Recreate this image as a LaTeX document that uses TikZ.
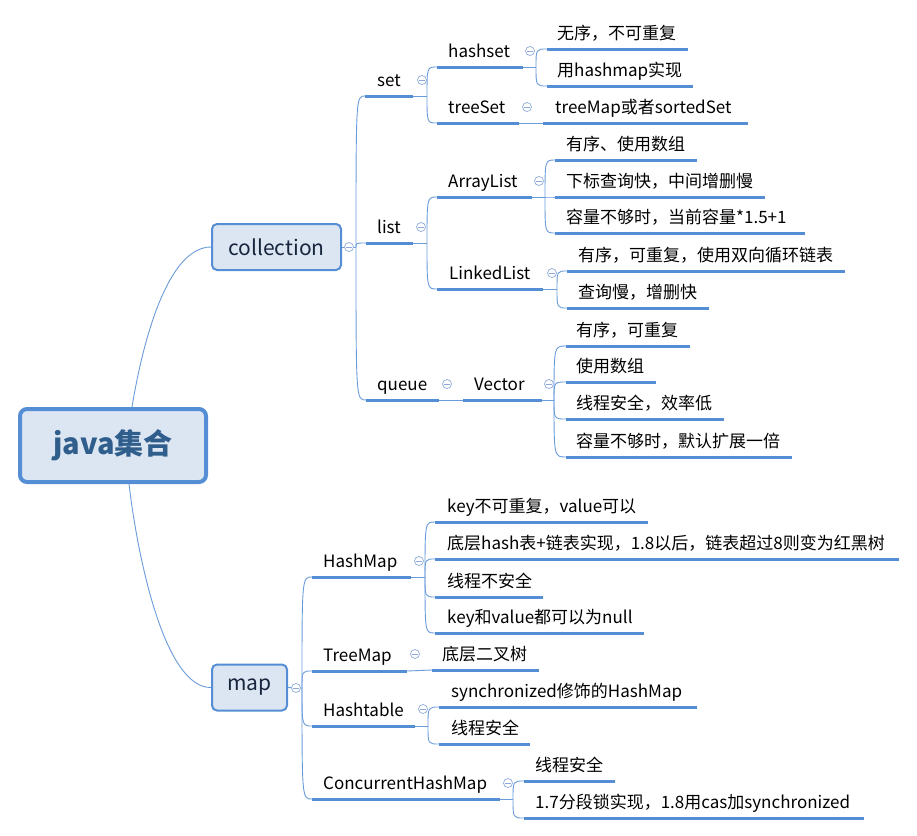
\documentclass[tikz,border=0pt]{standalone}
\usepackage{fontspec}
\setmainfont{Noto Sans CJK SC}
\definecolor{ulc}{HTML}{558ED5}
\definecolor{cnc}{HTML}{6A9BDA}
\definecolor{boxfill}{HTML}{DCE6F2}
\definecolor{mkc}{HTML}{8EAADB}
\definecolor{roottext}{HTML}{2F5D8C}
\definecolor{subtext}{HTML}{17253D}
\tikzset{
  ul/.style={line width=3, draw=ulc},
  cn/.style={line width=0.9, draw=cnc},
  txt/.style={anchor=base west, inner sep=0, font=\fontsize{17}{20}\selectfont, text=black},
  mk/.style={circle, draw=mkc, fill=white, line width=0.7, inner sep=0, minimum size=9,
    path picture={\draw[mkc, line width=0.7] ([xshift=-2.6]path picture bounding box.center) -- ([xshift=2.6]path picture bounding box.center);}},
  rootbox/.style={draw=ulc, fill=boxfill, line width=4, rounded corners=7, inner sep=0,
    minimum width=186, minimum height=73, text=roottext, font=\fontsize{29}{32}\selectfont\bfseries},
  mainbox/.style={draw=ulc, fill=boxfill, line width=2, rounded corners=5, inner sep=0,
    minimum height=46, text=subtext, font=\fontsize{21}{24}\selectfont}
}
% #1 name, #2 underline left x, #3 underline right x, #4 underline y, #5 text x, #6 text
\newcommand\topicnode[6]{%
  \coordinate (#1-l) at (#2,#4);
  \coordinate (#1-r) at (#3,#4);
  \node[txt] (#1) at (#5,#4-10) {#6};
  \draw[ul] (#1-l) -- (#1-r);
}
% #1 fork, #2 child
\newcommand\branch[2]{%
  \draw[cn] (#1) .. controls (#1 |- #2-l) .. (#2-l);
}
\begin{document}
\begin{tikzpicture}[x=1pt,y=-1pt]
\useasboundingbox (0,0) rectangle (917,835);

% main boxes
\node[rootbox] (root) at (113,445.5) {java集合};
\node[mainbox, minimum width=129] (collection) at (276.5,247) {collection};
\node[mainbox, minimum width=75] (map) at (249.5,687.5) {map};

\draw[cn] ([xshift=19]root.north) .. controls (143,340) and (168,247) .. (collection.west);
\draw[cn] ([xshift=16]root.south) .. controls (138,560) and (165,688) .. (map.west);

% ---------------- collection ----------------
\coordinate (coll-f) at (356,247);
\draw[cn] (collection.east) -- (coll-f);

\topicnode{set}{365}{413}{96}{377}{set}
\topicnode{list}{366}{413}{243}{377}{list}
\topicnode{queue}{366}{439}{400}{377}{queue}
\branch{coll-f}{set}
\branch{coll-f}{list}
\branch{coll-f}{queue}

% set
\coordinate (set-f) at (427,96);
\draw[cn] (set-r) -- (set-f);
\topicnode{hashset}{437}{523}{67}{448}{hashset}
\topicnode{treeset}{437}{519}{123}{448}{treeSet}
\branch{set-f}{hashset}
\branch{set-f}{treeset}

\coordinate (hashset-f) at (536,67);
\draw[cn] (hashset-r) -- (hashset-f);
\topicnode{h1}{547}{688}{49}{557}{无序，不可重复}
\topicnode{h2}{547}{693}{86}{557}{用hashmap实现}
\branch{hashset-f}{h1}
\branch{hashset-f}{h2}

\topicnode{t1}{543}{748}{123}{555}{treeMap或者sortedSet}
\draw[cn] (treeset-r) -- (t1-l);

% list
\coordinate (list-f) at (427,243);
\draw[cn] (list-r) -- (list-f);
\topicnode{arraylist}{437}{532}{197}{448}{ArrayList}
\topicnode{linkedlist}{437}{543}{289}{449}{LinkedList}
\branch{list-f}{arraylist}
\branch{list-f}{linkedlist}

\coordinate (arraylist-f) at (545,197);
\draw[cn] (arraylist-r) -- (arraylist-f);
\topicnode{a1}{555}{697}{160}{566}{有序、使用数组}
\topicnode{a2}{555}{765}{197}{566}{下标查询快，中间增删慢}
\topicnode{a3}{555}{805}{233}{566}{容量不够时，当前容量*1.5+1}
\branch{arraylist-f}{a1}
\branch{arraylist-f}{a2}
\branch{arraylist-f}{a3}

\coordinate (linkedlist-f) at (557,289);
\draw[cn] (linkedlist-r) -- (linkedlist-f);
\topicnode{l1}{567}{845}{271}{578}{有序，可重复，使用双向循环链表}
\topicnode{l2}{567}{709}{308}{578}{查询慢，增删快}
\branch{linkedlist-f}{l1}
\branch{linkedlist-f}{l2}

% queue
\topicnode{vector}{463}{542}{400}{474}{Vector}
\draw[cn] (queue-r) -- (vector-l);
\coordinate (vector-f) at (554,400);
\draw[cn] (vector-r) -- (vector-f);
\topicnode{v1}{566}{690}{346}{576}{有序，可重复}
\topicnode{v2}{566}{656}{382}{576}{使用数组}
\topicnode{v3}{566}{724}{419}{576}{线程安全，效率低}
\topicnode{v4}{566}{792}{457}{576}{容量不够时，默认扩展一倍}
\branch{vector-f}{v1}
\branch{vector-f}{v2}
\branch{vector-f}{v3}
\branch{vector-f}{v4}

% ---------------- map ----------------
\coordinate (map-f) at (302,688);
\draw[cn] (map.east) -- (map-f);
\topicnode{hashmap}{312}{411}{577}{323}{HashMap}
\topicnode{treemap}{312}{407}{671}{323}{TreeMap}
\topicnode{hashtable}{312}{415}{726}{323}{Hashtable}
\topicnode{chm}{312}{500}{799}{323}{ConcurrentHashMap}
\branch{map-f}{hashmap}
\branch{map-f}{treemap}
\branch{map-f}{hashtable}
\branch{map-f}{chm}

\coordinate (hashmap-f) at (425,577);
\draw[cn] (hashmap-r) -- (hashmap-f);
\topicnode{m1}{435}{648}{522}{447}{key不可重复，value可以}
\topicnode{m2}{435}{899}{559}{447}{底层hash表+链表实现，1.8以后，链表超过8则变为红黑树}
\topicnode{m3}{435}{543}{597}{447}{线程不安全}
\topicnode{m4}{435}{644}{633}{447}{key和value都可以为null}
\branch{hashmap-f}{m1}
\branch{hashmap-f}{m2}
\branch{hashmap-f}{m3}
\branch{hashmap-f}{m4}

\topicnode{tm1}{432}{539}{670}{442}{底层二叉树}
\draw[cn] (treemap-r) -- (tm1-l);

\coordinate (hashtable-f) at (428,726);
\draw[cn] (hashtable-r) -- (hashtable-f);
\topicnode{ht1}{439}{697}{707}{451}{synchronized修饰的HashMap}
\topicnode{ht2}{439}{530}{744}{451}{线程安全}
\branch{hashtable-f}{ht1}
\branch{hashtable-f}{ht2}

\coordinate (chm-f) at (513,799);
\draw[cn] (chm-r) -- (chm-f);
\topicnode{c1}{524}{615}{781}{535}{线程安全}
\topicnode{c2}{524}{864}{818}{535}{1.7分段锁实现，1.8用cas加synchronized}
\branch{chm-f}{c1}
\branch{chm-f}{c2}

% collapse markers
\node[mk] (mk-coll) at (349,247) {};
\node[mk] (mk-map) at (296,688) {};
\node[mk] (mk-set) at (422,80) {};
\node[mk] (mk-list) at (421,227) {};
\node[mk] (mk-queue) at (447,384) {};
\node[mk] (mk-hashset) at (530,51) {};
\node[mk] (mk-treeset) at (527,107) {};
\node[mk] (mk-arraylist) at (539,181) {};
\node[mk] (mk-linkedlist) at (552,273) {};
\node[mk] (mk-vector) at (549,384) {};
\node[mk] (mk-hashmap) at (419,561) {};
\node[mk] (mk-treemap) at (415,654) {};
\node[mk] (mk-hashtable) at (423,709) {};
\node[mk] (mk-chm) at (508,783) {};
\end{tikzpicture}
\end{document}
